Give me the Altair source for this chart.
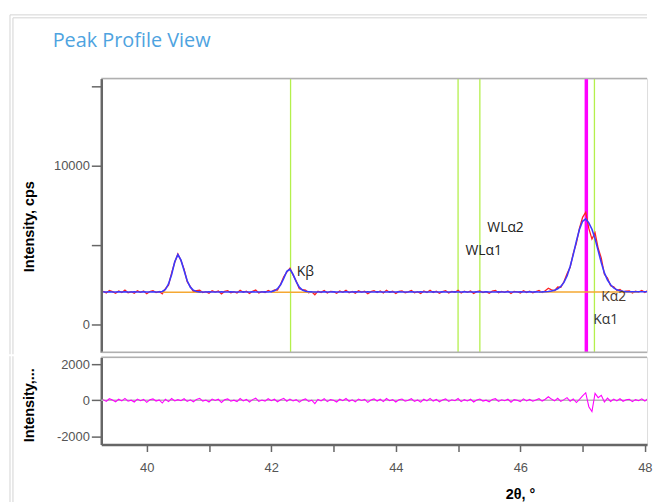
import altair as alt
import numpy as np
import pandas as pd

# ---------------- data ----------------
two_theta = np.round(39.30 + 0.05 * np.arange(179), 2)   # 39.30 .. 48.20

fit_cps = [
    2050, 2048, 2052, 2050, 2049, 2051, 2050, 2052, 2048, 2050,   # 39.30
    2051, 2049, 2050, 2052, 2050, 2048, 2051, 2050, 2052, 2080,   # 39.80
    2200, 2550, 3150, 3950, 4400, 4050, 3400, 2750, 2350, 2150,   # 40.30
    2080, 2052, 2050, 2049, 2051, 2050, 2048, 2050, 2052, 2050,   # 40.80
    2049, 2051, 2050, 2050, 2048, 2052, 2050, 2049, 2051, 2050,   # 41.30
    2050, 2048, 2052, 2050, 2070, 2120, 2250, 2500, 2900, 3350,   # 41.80
    3480, 3150, 2700, 2350, 2170, 2090, 2060, 2052, 2050, 2048,   # 42.30
    2050, 2051, 2049, 2050, 2052, 2050, 2048, 2050, 2051, 2050,   # 42.80
    2049, 2052, 2050, 2048, 2050, 2051, 2050, 2049, 2052, 2050,   # 43.30
    2050, 2048, 2051, 2050, 2049, 2052, 2050, 2050, 2048, 2051,   # 43.80
    2050, 2049, 2052, 2050, 2048, 2050, 2051, 2050, 2049, 2052,   # 44.30
    2050, 2048, 2050, 2051, 2050, 2049, 2052, 2050, 2048, 2050,   # 44.80
    2051, 2050, 2049, 2052, 2050, 2050, 2048, 2051, 2050, 2049,   # 45.30
    2052, 2050, 2048, 2050, 2051, 2050, 2049, 2052, 2050, 2051,   # 45.80
    2050, 2052, 2060, 2080, 2110, 2160, 2250, 2400, 2650, 3050,   # 46.30
    3650, 4400, 5250, 6000, 6500, 6650, 6400, 6000, 5400, 4650,   # 46.80
    3900, 3250, 2800, 2500, 2300, 2180, 2120, 2090, 2070, 2060,   # 47.30
    2060, 2058, 2060, 2062, 2060, 2058, 2060, 2061, 2060,         # 47.80
]

residual_cps = [
    40, -60, 90, 20, -80, 60, -30, 110, -50, 10,
    -90, 70, -20, 50, -110, 30, 80, -40, 20, -150,
    60, -70, 100, -30, 40, -20, 90, -60, 30, -80,
    50, 110, -40, 20, -90, 70, -10, 60, -120, 30,
    80, -50, 10, -70, 100, -30, 50, -90, 40, 120,
    -60, 20, -40, 90, -20, 60, -80, 30, 110, -50,
    70, -30, 40, -100, 20, 80, -60, 10, -180, 50,
    -30, 90, -70, 40, 10, -90, 60, -20, 100, -50,
    30, -80, 70, -10, 50, -110, 20, 80, -40, 60,
    -70, 100, -20, 40, -90, 30, 70, -50, 10, 90,
    -60, 20, -100, 60, -30, 110, -40, 50, -80, 20,
    80, -60, 30, -20, 100, -70, 40, -30, 60, -90,
    20, 70, -40, 10, -80, 50, 90, -60, 30, -20,
    60, -100, 40, 10, -70, 80, -30, 50, -50, 20,
    90, -40, 60, 200, 70, -30, 110, -60, 40, 150,
    -50, 80, -120, 60, 250, 420, -350, -620, 380, 150,
    280, -90, 120, -60, 70, -30, 90, -50, 30, 60,
    -70, 40, -20, 80, -40, 100, -60, 30, -10,
]

# background segments under the peaks
bg_id = ["p1", "p1", "p2", "p2", "p3", "p3"]
bg_x = [40.24, 40.88, 42.00, 42.72, 46.30, 47.90]
bg_y = [2030, 2030, 2030, 2030, 2040, 2040]

# reflection marker lines
green_lines = [42.31, 45.00, 45.35, 47.19]
magenta_line = [47.06]

# peak labels
label_text = ["Kβ", "WLα2", "WLα1", "Kα2", "Kα1"]
label_x = [42.41, 45.47, 45.12, 47.30, 47.17]
label_y = [3310, 6060, 4625, 1750, 250]
label_color = ["#222222", "#222222", "#222222", "#4a3a30", "#333333"]

# ---------------- tables ----------------
n = min(len(two_theta), len(fit_cps), len(residual_cps))
fit_arr = np.array(fit_cps[:n], dtype=float)
res_arr = np.array(residual_cps[:n], dtype=float)
prof = pd.DataFrame({"x": two_theta[:n], "fit": fit_arr, "meas": fit_arr + res_arr, "res": res_arr})
bg = pd.DataFrame({"id": bg_id, "x": bg_x, "y": bg_y})
greens = pd.DataFrame({"x": green_lines})
mag = pd.DataFrame({"x": magenta_line})
labels = pd.DataFrame({"t": label_text, "x": label_x, "y": label_y, "c": label_color})
one = pd.DataFrame({"a": [0]})

W, H1, H2 = 550, 276, 88
XD = [39.27, 39.27 + W / 62.75]
xs = alt.Scale(domain=XD, nice=False, zero=False)
ys_top = alt.Scale(domain=[-1750, 15500], nice=False, zero=False)
ys_bot = alt.Scale(domain=[-2440, 2380], nice=False, zero=False)

AX = dict(grid=False, domainColor="#666666", domainWidth=2.5, tickColor="#666666",
          tickWidth=1.5, labelColor="#555555", labelFontSize=13, labelFont="Liberation Sans",
          titleFont="Liberation Sans", titleFontSize=14.5, titleFontWeight="bold", titleColor="#000000")

ytop_axis = alt.Axis(values=[0, 5000, 10000, 15000],
                     labelExpr="datum.value % 10000 == 0 ? toString(datum.value) : ''",
                     tickSize=10, labelPadding=2, title="Intensity, cps",
                     titleX=-65, titleY=149, **AX)
ybot_axis = alt.Axis(values=[-2000, -1000, 0, 1000, 2000],
                     labelExpr="datum.value % 2000 == 0 ? toString(datum.value) : ''",
                     tickSize=10, labelPadding=2, title="Intensity,...",
                     titleX=-65, titleY=48, **AX)
xbot_axis = alt.Axis(values=list(range(39, 49)),
                     labelExpr="datum.value % 2 == 0 ? toString(datum.value) : ''",
                     tickSize=7, labelPadding=10, title="2θ, °",
                     titleX=422, titleY=50, titleBaseline="middle", **AX)

X = alt.X("x:Q", scale=xs, axis=None)

# ---------------- top panel ----------------
g_rules = alt.Chart(greens).mark_rule(color="#b4f04c", strokeWidth=1.3, clip=True).encode(x=X)
m_rule = alt.Chart(mag).mark_rule(color="#ff00ff", strokeWidth=3.5, clip=True).encode(x=X)
meas_line = alt.Chart(prof).mark_line(color="#ff2020", strokeWidth=1.3, clip=True).encode(
    x=X, y=alt.Y("meas:Q", scale=ys_top, axis=ytop_axis))
bg_line = alt.Chart(bg).mark_line(color="#f5a832", strokeWidth=1.5, clip=True).encode(
    x=X, y=alt.Y("y:Q", scale=ys_top), detail="id:N")
fit_line = alt.Chart(prof).mark_line(color="#3a3aff", strokeWidth=1.6, clip=True).encode(
    x=X, y=alt.Y("fit:Q", scale=ys_top))
txt = alt.Chart(labels).mark_text(align="left", baseline="middle", fontSize=14,
                                  font="Open Sans").encode(
    x=X, y=alt.Y("y:Q", scale=ys_top), text="t:N", color=alt.Color("c:N", scale=None))

# decoration: borders, outer frame and title
border_top = alt.Chart(one).mark_rule(color="#b0b0b0", strokeWidth=1.5).encode(
    x=alt.value(0), x2=alt.value(W), y=alt.value(0))
border_bot = alt.Chart(one).mark_rule(color="#b0b0b0", strokeWidth=1.5).encode(
    x=alt.value(0), x2=alt.value(W), y=alt.value(H1))
frame_top = []
frame_bot = []
for dx, dy in [(-92, -64), (-89, -61)]:
    frame_top.append(alt.Chart(one).mark_rule(color="#d4d4d4", strokeWidth=1).encode(
        x=alt.value(dx), y=alt.value(dy), y2=alt.value(H1 + 2)))
    frame_top.append(alt.Chart(one).mark_rule(color="#d4d4d4", strokeWidth=1).encode(
        x=alt.value(dx), x2=alt.value(W), y=alt.value(dy)))
    frame_bot.append(alt.Chart(one).mark_rule(color="#d4d4d4", strokeWidth=1).encode(
        x=alt.value(dx), y=alt.value(-1), y2=alt.value(H2 + 60)))
title = alt.Chart(one).mark_text(text="Peak Profile View", align="left", baseline="alphabetic",
                                 fontSize=20, font="Open Sans", color="#4ea3e0").encode(
    x=alt.value(-49), y=alt.value(-32))

top = alt.layer(g_rules, m_rule, meas_line, bg_line, fit_line, txt,
                border_top, border_bot, *frame_top, title).properties(width=W, height=H1)

# ---------------- bottom panel ----------------
zero = alt.Chart(pd.DataFrame({"y": [0]})).mark_rule(color="#b8b8b8", strokeWidth=1.5).encode(
    y=alt.Y("y:Q", scale=ys_bot))
res_line = alt.Chart(prof).mark_line(color="#ff00ff", strokeWidth=1.1, clip=True).encode(
    x=alt.X("x:Q", scale=xs, axis=xbot_axis),
    y=alt.Y("res:Q", scale=ys_bot, axis=ybot_axis))
bborder = alt.Chart(one).mark_rule(color="#b0b0b0", strokeWidth=1.5).encode(
    x=alt.value(0), x2=alt.value(W), y=alt.value(0))
bottom = alt.layer(zero, res_line, bborder, *frame_bot).properties(width=W, height=H2)

chart = alt.vconcat(top, bottom, spacing=0).resolve_scale(y="independent").properties(
    padding={"left": 1, "top": 4, "right": 0, "bottom": 0}
).configure_view(stroke=None).configure(background="white")

chart.save("out.html", embed_options={"renderer": "svg", "actions": False})
